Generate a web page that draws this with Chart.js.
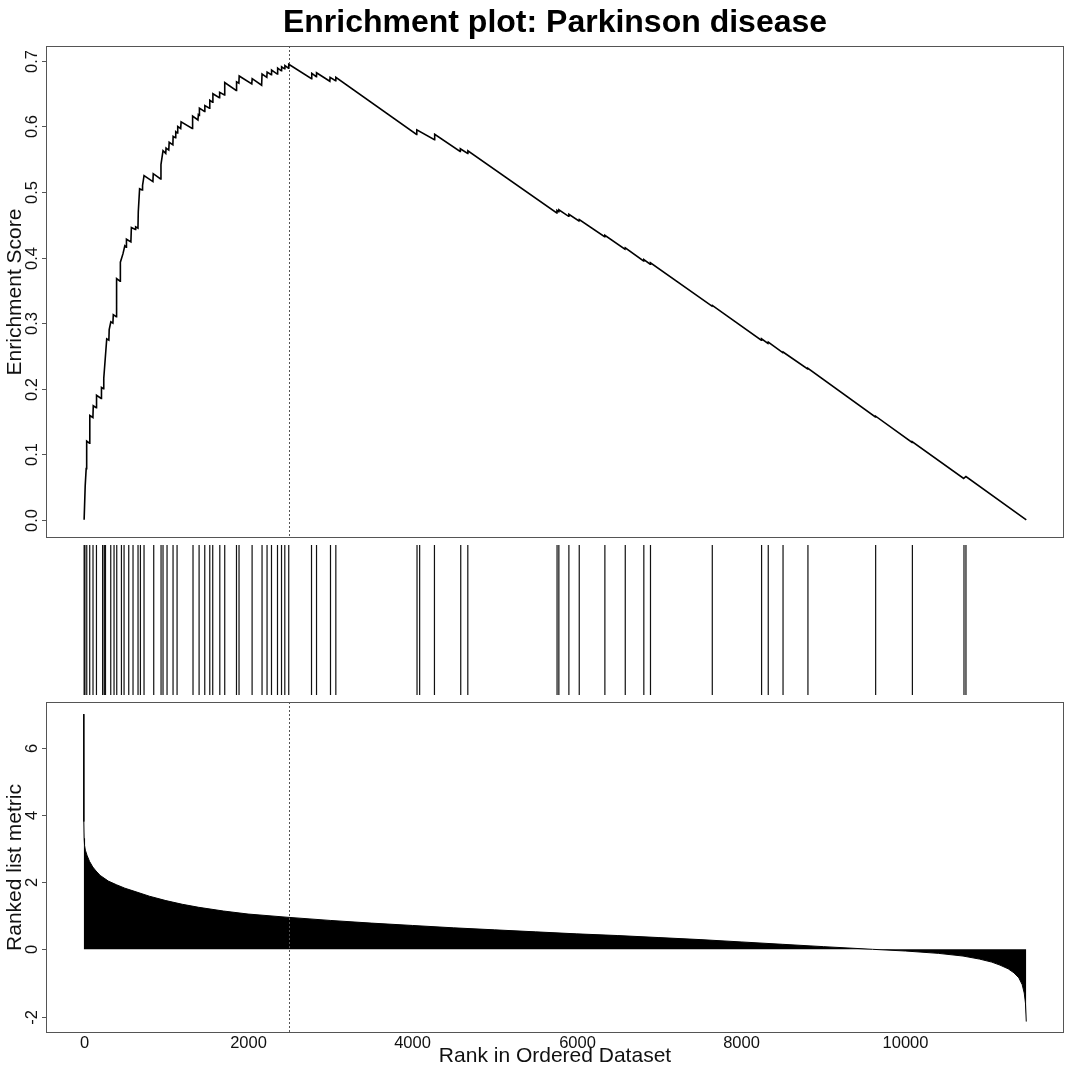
<!DOCTYPE html>
<html>
<head>
<meta charset="utf-8">
<script src="https://cdn.jsdelivr.net/npm/chart.js@4.4.1/dist/chart.umd.min.js"></script>
<style>
body { margin: 0; background: #fff; }
#wrap { position: relative; width: 1080px; height: 1080px; }
canvas { position: absolute; left: 0; }
</style>
</head>
<body>
<div id="wrap">
  <canvas id="es-chart" width="1080" height="540" style="top:0px"></canvas>
  <canvas id="hit-chart" width="1080" height="160" style="top:540px"></canvas>
  <canvas id="metric-chart" width="1080" height="380" style="top:700px"></canvas>
</div>
<script>
// running enrichment score, vertices [rank, ES]
const esPoints = [
  [5, 0], [18, 0.052], [30, 0.078], [36, 0.12], [70, 0.117], [74, 0.159], [112, 0.156], [116, 0.174],
  [152, 0.171], [156, 0.19], [212, 0.185], [216, 0.202], [240, 0.2], [244, 0.216], [262, 0.246],
  [280, 0.276], [306, 0.274], [310, 0.29], [330, 0.302], [355, 0.3], [360, 0.313], [395, 0.31],
  [400, 0.368], [442, 0.364], [446, 0.393], [478, 0.406], [500, 0.418], [516, 0.416], [520, 0.428],
  [574, 0.424], [580, 0.446], [628, 0.443], [632, 0.447], [660, 0.445], [664, 0.47], [680, 0.505],
  [710, 0.503], [716, 0.51], [734, 0.525], [842, 0.516], [846, 0.528], [935, 0.52], [940, 0.542],
  [965, 0.563], [998, 0.559], [1002, 0.567], [1035, 0.564], [1040, 0.576], [1085, 0.572], [1088, 0.585],
  [1115, 0.583], [1120, 0.592], [1140, 0.59], [1144, 0.6], [1180, 0.597], [1185, 0.607], [1320, 0.597],
  [1325, 0.616], [1390, 0.61], [1395, 0.618], [1404, 0.617], [1408, 0.628], [1470, 0.623], [1474, 0.632],
  [1530, 0.628], [1534, 0.64], [1568, 0.637], [1572, 0.65], [1650, 0.644], [1654, 0.652], [1712, 0.648],
  [1716, 0.667], [1855, 0.655], [1860, 0.668], [1888, 0.666], [1892, 0.677], [2045, 0.665], [2050, 0.673],
  [2165, 0.663], [2170, 0.68], [2228, 0.675], [2232, 0.683], [2282, 0.679], [2286, 0.686], [2355, 0.68],
  [2360, 0.689], [2404, 0.685], [2408, 0.691], [2444, 0.688], [2448, 0.693], [2492, 0.689], [2495, 0.695],
  [2772, 0.673], [2775, 0.681], [2830, 0.676], [2833, 0.682], [2995, 0.669], [2998, 0.675], [3064, 0.67],
  [3068, 0.675], [4050, 0.588], [4053, 0.595], [4268, 0.58], [4271, 0.588], [4580, 0.562], [4583, 0.566],
  [4672, 0.559], [4675, 0.563], [5756, 0.468], [5759, 0.472], [5778, 0.47], [5782, 0.473], [5900, 0.463],
  [5904, 0.466], [6026, 0.456], [6030, 0.458], [6338, 0.432], [6342, 0.434], [6586, 0.413], [6590, 0.415],
  [6812, 0.395], [6816, 0.397], [6893, 0.39], [6897, 0.392], [7645, 0.326], [7649, 0.327], [8245, 0.274],
  [8249, 0.276], [8326, 0.269], [8330, 0.271], [8506, 0.255], [8510, 0.256], [8809, 0.23], [8813, 0.231],
  [9633, 0.157], [9637, 0.158], [10080, 0.118], [10084, 0.119], [10708, 0.063], [10736, 0.066], [11470, 0]
];

// gene set hits (rank positions)
const hitRanks = [
  5, 15, 37, 73, 113, 155, 230, 250, 265, 329, 369, 402, 459, 491, 548, 600, 661, 690, 734, 852,
  941, 965, 1014, 1087, 1136, 1330, 1404, 1473, 1534, 1570, 1656, 1716, 1859, 1890, 2049, 2170,
  2231, 2285, 2358, 2407, 2447, 2495, 2772, 2833, 3003, 3068, 4056, 4088, 4268, 4588, 4674, 5760,
  5782, 5904, 6030, 6342, 6590, 6816, 6897, 7649, 8249, 8330, 8510, 8813, 9637, 10084, 10712, 10736
];

// ranked list metric, sampled along the curve
const metricRanks = [0, 1, 2, 5, 10, 20, 40, 70, 110, 150, 200, 300, 400, 500, 600, 800, 1000, 1200,
  1400, 1700, 2000, 2500, 3000, 3500, 4000, 4500, 5000, 5500, 6000, 6500, 7000, 7500, 8000, 8500,
  9000, 9600, 10000, 10400, 10700, 10900, 11050, 11150, 11250, 11320, 11380, 11420, 11445, 11460, 11470];
const metricValues = [7.0, 4.8, 3.8, 3.3, 3.1, 2.95, 2.8, 2.62, 2.45, 2.33, 2.2, 2.03, 1.92, 1.82, 1.74,
  1.58, 1.45, 1.34, 1.25, 1.14, 1.05, 0.95, 0.86, 0.78, 0.71, 0.64, 0.58, 0.52, 0.46, 0.41, 0.35,
  0.29, 0.22, 0.15, 0.08, 0.0, -0.05, -0.12, -0.2, -0.29, -0.38, -0.47, -0.58, -0.7, -0.85, -1.05,
  -1.3, -1.6, -2.15];

const peakRank = 2495;
const rankTicks = [0, 2000, 4000, 6000, 8000, 10000];
const esTicks = [0, 0.1, 0.2, 0.3, 0.4, 0.5, 0.6, 0.7];
const esTickLabels = ['0.0', '0.1', '0.2', '0.3', '0.4', '0.5', '0.6', '0.7'];
const metricTicks = [-2, 0, 2, 4, 6];
const metricTickLabels = ['-2', '0', '2', '4', '6'];

const FONT = '"Liberation Sans", Arial, Helvetica, sans-serif';
Chart.defaults.font.family = FONT;
Chart.defaults.animation = false;

const xRange = { type: 'linear', min: -459, max: 11929, display: false };

// R-style box, ticks and labels drawn from the chart scales
const rAxes = {
  id: 'rAxes',
  afterDraw(chart, args, o) {
    const ctx = chart.ctx, a = chart.chartArea, x = chart.scales.x, y = chart.scales.y;
    ctx.save();
    if (o.peak !== undefined) {
      const px = Math.round(x.getPixelForValue(o.peak)) + 0.5;
      ctx.strokeStyle = '#555';
      ctx.lineWidth = 1;
      ctx.setLineDash([2, 2]);
      ctx.beginPath(); ctx.moveTo(px, a.top); ctx.lineTo(px, a.bottom); ctx.stroke();
      ctx.setLineDash([]);
    }
    if (o.box) {
      ctx.strokeStyle = '#555';
      ctx.lineWidth = 1;
      ctx.strokeRect(a.left + 0.5, a.top + 0.5, a.width - 1, a.height - 1);
    }
    ctx.fillStyle = '#111';
    ctx.strokeStyle = '#555';
    ctx.textAlign = 'center';
    ctx.textBaseline = 'middle';
    ctx.font = '16.5px ' + FONT;
    (o.yTicks || []).forEach((v, i) => {
      const py = Math.round(y.getPixelForValue(v)) + 0.5;
      ctx.beginPath(); ctx.moveTo(a.left, py); ctx.lineTo(a.left - 4, py); ctx.stroke();
      ctx.save();
      ctx.translate(32, py);
      ctx.rotate(-Math.PI / 2);
      ctx.fillText(o.yLabels[i], 0, 0);
      ctx.restore();
    });
    (o.xTicks || []).forEach(v => {
      const px = Math.round(x.getPixelForValue(v)) + 0.5;
      ctx.fillText(String(v), px, a.bottom + 10);
    });
    ctx.font = '21px ' + FONT;
    if (o.yTitle) {
      ctx.save();
      ctx.translate(15, (a.top + a.bottom) / 2);
      ctx.rotate(-Math.PI / 2);
      ctx.fillText(o.yTitle, 0, 0);
      ctx.restore();
    }
    if (o.xTitle) {
      ctx.fillText(o.xTitle, (a.left + a.right) / 2, a.bottom + 23);
    }
    ctx.restore();
  }
};

// top panel: enrichment score
new Chart(document.getElementById('es-chart'), {
  type: 'line',
  data: {
    datasets: [{
      data: esPoints.map(p => ({ x: p[0], y: p[1] })),
      borderColor: '#000',
      borderWidth: 1.6,
      pointRadius: 0,
      tension: 0
    }]
  },
  options: {
    responsive: false,
    layout: { padding: { left: 46, right: 16, top: 0, bottom: 2 } },
    scales: { x: xRange, y: { min: -0.0278, max: 0.7228, display: false } },
    plugins: {
      legend: { display: false },
      tooltip: { enabled: false },
      title: {
        display: true,
        text: 'Enrichment plot: Parkinson disease',
        color: '#000',
        font: { size: 32, weight: 'bold' },
        padding: { top: 4, bottom: 3.6 }
      },
      rAxes: { box: true, peak: peakRank, yTicks: esTicks, yLabels: esTickLabels, yTitle: 'Enrichment Score' }
    }
  },
  plugins: [rAxes]
});

// middle panel: hit positions
const hitData = [];
hitRanks.forEach(h => {
  hitData.push({ x: h, y: 0 }, { x: h, y: 1 }, { x: h, y: null });
});
new Chart(document.getElementById('hit-chart'), {
  type: 'line',
  data: {
    datasets: [{
      data: hitData,
      borderColor: '#111',
      borderWidth: 1.2,
      pointRadius: 0,
      spanGaps: false
    }]
  },
  options: {
    responsive: false,
    layout: { padding: { left: 46, right: 16, top: 5, bottom: 5 } },
    scales: { x: xRange, y: { min: 0, max: 1, display: false } },
    plugins: { legend: { display: false }, tooltip: { enabled: false } }
  }
});

// bottom panel: ranked list metric
new Chart(document.getElementById('metric-chart'), {
  type: 'line',
  data: {
    datasets: [{
      data: metricRanks.map((r, i) => ({ x: r, y: metricValues[i] })),
      borderColor: '#000',
      borderWidth: 1,
      backgroundColor: '#000',
      fill: 'origin',
      pointRadius: 0,
      tension: 0
    }]
  },
  options: {
    responsive: false,
    layout: { padding: { left: 46, right: 16, top: 2, bottom: 47 } },
    scales: { x: xRange, y: { min: -2.49, max: 7.36, display: false } },
    plugins: {
      legend: { display: false },
      tooltip: { enabled: false },
      rAxes: {
        box: true, peak: peakRank, yTicks: metricTicks, yLabels: metricTickLabels,
        yTitle: 'Ranked list metric', xTicks: rankTicks, xTitle: 'Rank in Ordered Dataset'
      }
    }
  },
  plugins: [rAxes]
});
</script>
</body>
</html>
